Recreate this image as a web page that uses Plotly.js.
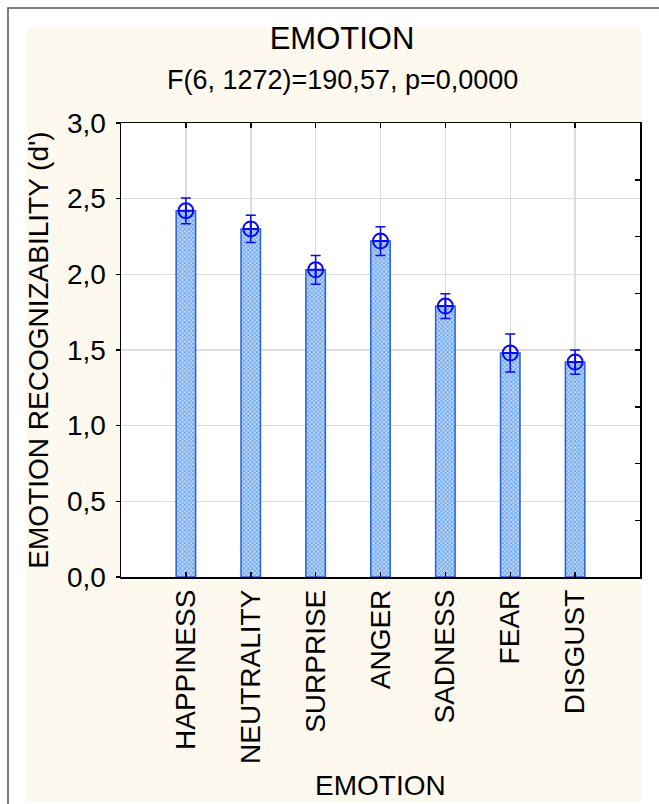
<!DOCTYPE html>
<html>
<head>
<meta charset="utf-8">
<script src="https://cdn.plot.ly/plotly-3.0.1.min.js"></script>
<style>html,body{margin:0;padding:0;background:#fff;}#chart{width:659px;height:804px;}</style>
</head>
<body>
<div id="chart"></div>
<script>
// ---- data ----
const categories = ["HAPPINESS", "NEUTRALITY", "SURPRISE", "ANGER", "SADNESS", "FEAR", "DISGUST"];
const means      = [2.42, 2.30, 2.03, 2.22, 1.79, 1.48, 1.42];
const errors     = [0.085, 0.09, 0.095, 0.095, 0.082, 0.125, 0.08];
const yTickVals  = [0, 0.5, 1.0, 1.5, 2.0, 2.5, 3.0];
const yTickText  = ["0,0", "0,5", "1,0", "1,5", "2,0", "2,5", "3,0"];
const titleText    = "EMOTION";
const subtitleText = "F(6, 1272)=190,57, p=0,0000";
const yTitle = "EMOTION RECOGNIZABILITY (d')";
const xTitle = "EMOTION";

const FONT = "Liberation Sans, Arial, sans-serif";
const BLUE = "#0a0af5";

const barTrace = {
  type: "bar",
  x: categories,
  y: means,
  width: 0.3,
  marker: {
    color: "#a0c6f2",
    line: {color: "#2a5fd8", width: 1.5},
    pattern: {shape: "x", bgcolor: "#b4d3f7", fgcolor: "#5393e6", size: 3, solidity: 0.4}
  },
  hoverinfo: "skip",
  showlegend: false
};

const pointTrace = {
  type: "scatter",
  mode: "markers",
  x: categories,
  y: means,
  marker: {symbol: "circle-cross-open", size: 15, color: BLUE, line: {width: 2, color: BLUE}},
  error_y: {type: "data", array: errors, visible: true, color: BLUE, thickness: 1.5, width: 5},
  showlegend: false
};

// right-hand axis carries only minor tick marks (8 divisions)
const rightTrace = {type: "scatter", x: [categories[0]], y: [0], yaxis: "y2", mode: "markers", marker: {opacity: 0}, hoverinfo: "skip", showlegend: false};

// plot area in px
const L = 121, R = 640, T = 123, B = 577;
const W = R - L, H = B - T;
const px = v => (v - L) / W;
const py = v => (B - v) / H;

const layout = {
  width: 659, height: 804,
  margin: {l: L, r: 659 - R, t: T, b: 804 - B, pad: 0},
  paper_bgcolor: "#ffffff",
  plot_bgcolor: "rgba(0,0,0,0)",
  font: {family: FONT, size: 28, color: "#000"},
  title: {
    text: titleText,
    font: {family: FONT, size: 31, color: "#000"},
    x: 342 / 659, xanchor: "center", xref: "container",
    y: 1 - 27 / 804, yanchor: "top", yref: "container"
  },
  annotations: [
    {text: subtitleText, xref: "paper", yref: "paper", x: px(342), y: py(80),
     xanchor: "center", yanchor: "middle", showarrow: false,
     font: {family: FONT, size: 27, color: "#000"}},
    {text: xTitle, xref: "paper", yref: "paper", x: 0.5, y: py(803),
     xanchor: "center", yanchor: "bottom", showarrow: false,
     font: {family: FONT, size: 28, color: "#000"}}
  ],
  xaxis: {
    type: "category",
    range: [-1, 7],
    showline: true, linecolor: "#000", linewidth: 1.5, mirror: "ticks",
    ticks: "inside", ticklen: 5, tickcolor: "#000", tickwidth: 1.5,
    showgrid: true, gridcolor: "#dcdcdc", gridwidth: 1.5,
    tickangle: -90,
    tickfont: {family: FONT, size: 28},
    zeroline: false, fixedrange: true
  },
  yaxis: {
    range: [0, 3],
    tickvals: yTickVals, ticktext: yTickText,
    showline: true, linecolor: "#000", linewidth: 1.5,
    ticks: "outside", ticklen: 4, tickcolor: "#000", tickwidth: 1.5,
    ticklabelstandoff: 4,
    showgrid: true, gridcolor: "#dcdcdc", gridwidth: 1.5,
    tickfont: {family: FONT, size: 28},
    title: {text: yTitle, font: {family: FONT, size: 28}, standoff: 10},
    zeroline: false, fixedrange: true
  },
  yaxis2: {
    overlaying: "y", side: "right",
    range: [0, 8], dtick: 1, tick0: 0,
    showline: true, linecolor: "#000", linewidth: 1.5,
    ticks: "inside", ticklen: 5, tickcolor: "#000", tickwidth: 1.5,
    showticklabels: false, showgrid: false, zeroline: false, fixedrange: true
  },
  shapes: [
    {type: "rect", xref: "paper", yref: "paper", layer: "below",
     x0: px(8), x1: px(720), y0: py(8), y1: py(900),
     line: {color: "#555555", width: 1.5}, fillcolor: "#ffffff"},
    {type: "rect", xref: "paper", yref: "paper", layer: "below",
     x0: px(27), x1: px(641), y0: py(28), y1: py(802),
     line: {width: 0}, fillcolor: "#fdf9ef"},
    {type: "rect", xref: "paper", yref: "paper", layer: "below",
     x0: 0, x1: 1, y0: 0, y1: 1,
     line: {width: 0}, fillcolor: "#ffffff"}
  ],
  bargap: 0.7
};

Plotly.newPlot("chart", [barTrace, pointTrace, rightTrace], layout, {displayModeBar: false, staticPlot: true});
</script>
</body>
</html>
